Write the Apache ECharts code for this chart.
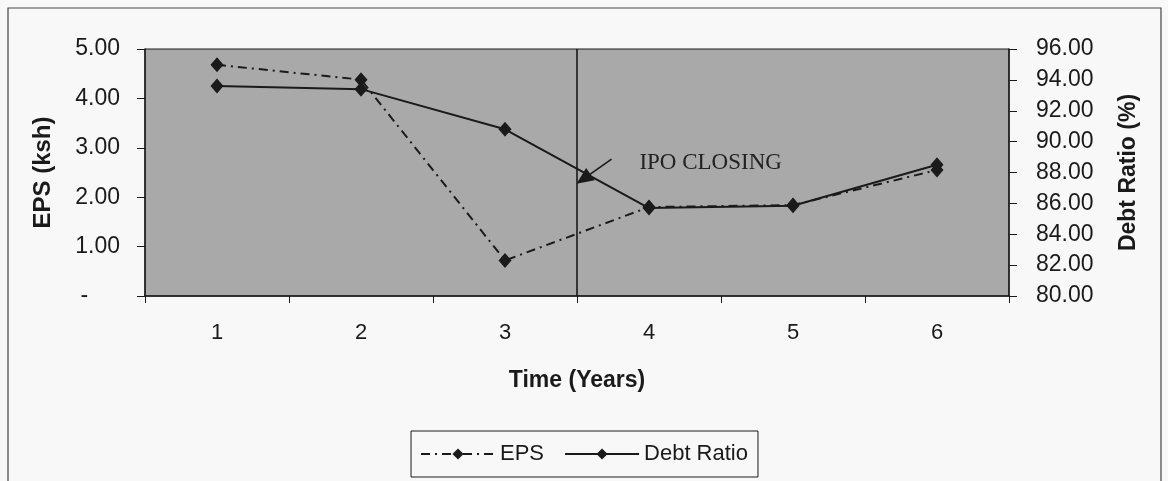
<!DOCTYPE html>
<html>
<head>
<meta charset="utf-8">
<script src="https://cdn.jsdelivr.net/npm/echarts@6/dist/echarts.min.js"></script>
<style>
  html, body { margin: 0; padding: 0; background: #f8f8f8; }
  #chart { width: 1168px; height: 481px; }
</style>
</head>
<body>
<div id="chart"></div>
<script>
// years on the x axis
var years = ['1', '2', '3', '4', '5', '6'];
// EPS in ksh (left axis)
var eps = [4.68, 4.38, 0.72, 1.80, 1.84, 2.55];
// debt ratio in % (right axis)
var debtRatio = [93.6, 93.4, 90.8, 85.7, 85.85, 88.5];
// where the IPO closed, between year 3 and 4
var ipoAt = 3.5;
// arrow pointing at the IPO line: [x, eps] tail then head
var ipoArrow = [[3.74, 2.77], [3.545, 2.37]];
var ipoText = [3.93, 2.69];

var ink = '#1a1a1a';
var sans = 'Liberation Sans, Arial, sans-serif';

var chart = echarts.init(document.getElementById('chart'));

var option = {
  backgroundColor: '#f8f8f8',
  animation: false,
  graphic: [{
    type: 'rect',
    shape: { x: 8, y: 8, width: 1153, height: 490 },
    style: { fill: 'none', stroke: '#444', lineWidth: 1.2 },
    silent: true
  }],
  grid: {
    left: 145, right: 159, top: 49, bottom: 185,
    show: true,
    backgroundColor: '#a9a9a9',
    borderColor: ink,
    borderWidth: 1
  },
  legend: {
    bottom: 4,
    left: 'center',
    data: ['EPS', 'Debt Ratio'],
    itemWidth: 74,
    itemHeight: 14,
    itemGap: 20,
    padding: [12, 10, 12, 9],
    borderColor: ink,
    borderWidth: 1,
    textStyle: { fontFamily: sans, fontSize: 22, color: ink }
  },
  xAxis: [{
    type: 'category',
    data: years,
    boundaryGap: true,
    axisLine: { lineStyle: { color: ink, width: 1.5 } },
    axisTick: { show: true, length: 7, lineStyle: { color: ink } },
    axisLabel: { fontFamily: sans, fontSize: 22, color: ink, margin: 26 },
    name: 'Time (Years)',
    nameLocation: 'middle',
    nameGap: 73,
    nameTextStyle: { fontFamily: sans, fontSize: 23, fontWeight: 'bold', color: ink }
  }, {
    type: 'value',
    min: 0.5,
    max: 6.5,
    show: false
  }],
  yAxis: [{
    type: 'value',
    min: 0, max: 5, interval: 1,
    position: 'left',
    splitLine: { show: false },
    axisLine: { show: true, lineStyle: { color: ink, width: 1.5 } },
    axisTick: { show: true, length: 8, lineStyle: { color: ink } },
    axisLabel: {
      fontFamily: sans, fontSize: 23, color: ink, margin: 25,
      formatter: function (v) { return v === 0 ? '-     ' : v.toFixed(2); }
    },
    name: 'EPS (ksh)',
    nameLocation: 'middle',
    nameRotate: 90,
    nameGap: 90,
    nameTextStyle: { fontFamily: sans, fontSize: 24, fontWeight: 'bold', color: ink }
  }, {
    type: 'value',
    min: 80, max: 96, interval: 2,
    position: 'right',
    splitLine: { show: false },
    axisLine: { show: true, lineStyle: { color: ink, width: 1.5 } },
    axisTick: { show: true, length: 8, lineStyle: { color: ink } },
    axisLabel: {
      fontFamily: sans, fontSize: 23, color: ink, margin: 27,
      formatter: function (v) { return v.toFixed(2); }
    },
    name: 'Debt Ratio (%)',
    nameLocation: 'middle',
    nameRotate: 90,
    nameGap: 108,
    nameTextStyle: { fontFamily: sans, fontSize: 23, fontWeight: 'bold', color: ink }
  }],
  series: [{
    name: 'EPS',
    type: 'line',
    xAxisIndex: 0,
    yAxisIndex: 0,
    data: eps,
    symbol: 'diamond',
    symbolSize: [13, 15],
    itemStyle: { color: ink },
    lineStyle: { color: ink, width: 2, type: [9, 5, 2, 5] }
  }, {
    name: 'Debt Ratio',
    type: 'line',
    xAxisIndex: 0,
    yAxisIndex: 1,
    data: debtRatio,
    symbol: 'diamond',
    symbolSize: [13, 15],
    itemStyle: { color: ink },
    lineStyle: { color: ink, width: 2, type: 'solid' }
  }, {
    name: 'IPO',
    type: 'line',
    xAxisIndex: 1,
    yAxisIndex: 0,
    data: [],
    silent: true,
    markLine: {
      silent: true,
      animation: false,
      label: { show: false },
      data: [
        [{ coord: [ipoAt, 0], symbol: 'none' }, { coord: [ipoAt, 5], symbol: 'none' }],
        [{ coord: ipoArrow[0], symbol: 'none' }, { coord: ipoArrow[1], symbol: 'triangle', symbolSize: [15, 17] }]
      ],
      lineStyle: { color: ink, width: 1.6, type: 'solid' }
    },
    markPoint: {
      silent: true,
      symbol: 'circle',
      symbolSize: 1,
      itemStyle: { color: 'rgba(0,0,0,0)' },
      label: {
        show: true,
        position: 'right',
        distance: 0,
        formatter: 'IPO CLOSING',
        fontFamily: 'Liberation Serif, Times New Roman, serif',
        fontSize: 23,
        color: '#222'
      },
      data: [{ coord: ipoText }]
    }
  }]
};

chart.setOption(option);
</script>
</body>
</html>
